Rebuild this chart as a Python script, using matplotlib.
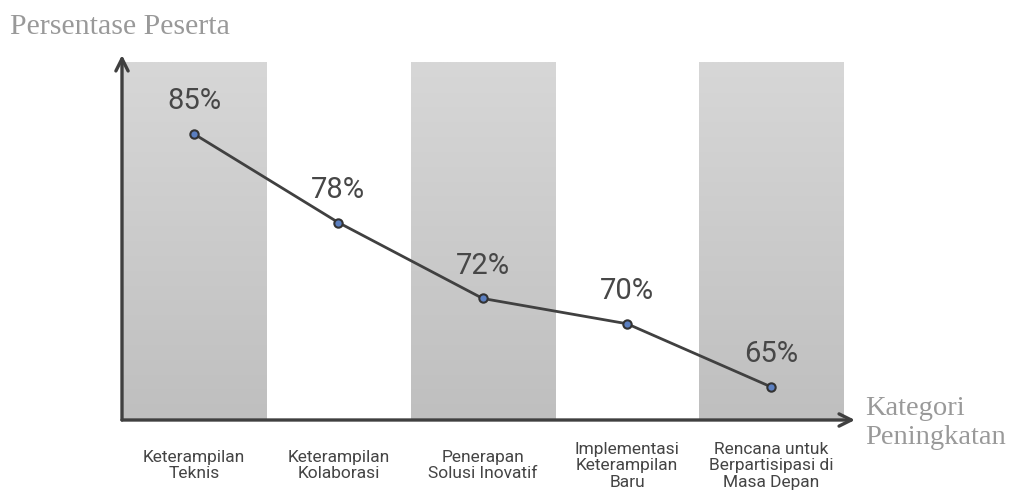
import matplotlib.pyplot as plt
import numpy as np

categories = [
    "Keterampilan\nTeknis",
    "Keterampilan\nKolaborasi",
    "Penerapan\nSolusi Inovatif",
    "Implementasi\nKeterampilan\nBaru",
    "Rencana untuk\nBerpartisipasi di\nMasa Depan",
]
values = [85, 78, 72, 70, 65]
value_labels = ["85%", "78%", "72%", "70%", "65%"]
shaded = [0, 2, 4]

y_title = "Persentase Peserta"
x_title = "Kategori\nPeningkatan"


def main():
    fig = plt.figure(figsize=(10.15, 4.97), dpi=100)
    ax = fig.add_axes([122 / 1015, 77 / 497, 733 / 1015, 365 / 497])

    ymin, ymax = 62.39, 91.25
    band_top = 90.69
    ax.set_xlim(-0.5, 4.58)
    ax.set_ylim(ymin, ymax)

    # gradient bands behind alternate categories
    grad = np.linspace(0, 1, 256).reshape(-1, 1)
    cmap = plt.matplotlib.colors.LinearSegmentedColormap.from_list(
        "g", ["#d7d7d7", "#bfbfbf"]
    )
    for i in shaded:
        ax.imshow(grad, extent=(i - 0.5, i + 0.5, ymin, band_top),
                  origin="upper", cmap=cmap, aspect="auto", zorder=0)

    x = np.arange(len(categories))
    ax.plot(
        x, values, color="#404040", lw=2, marker="o", markersize=6,
        markerfacecolor="#5b7fc0", markeredgecolor="#333333",
        markeredgewidth=1.5, zorder=3,
    )
    for xi, v, lab in zip(x, values, value_labels):
        ax.annotate(
            lab, xy=(xi, v), xytext=(0, 23.5), textcoords="offset points",
            ha="center", va="center", fontsize=21, family="Roboto",
            color="#474747",
        )

    for s in ax.spines.values():
        s.set_visible(False)
    ax.set_xticks([])
    ax.set_yticks([])

    # axis arrows
    arrow = dict(arrowstyle="->", lw=2.4, color="#404040", mutation_scale=22,
                 shrinkA=0, shrinkB=0)
    ax.annotate("", xy=(0, 1), xytext=(0, 0), xycoords="axes fraction",
                arrowprops=arrow, annotation_clip=False)
    ax.annotate("", xy=(1, 0), xytext=(0, 0), xycoords="axes fraction",
                arrowprops=arrow, annotation_clip=False)

    # category labels below
    for xi, c in zip(x, categories):
        ax.annotate(
            c, xy=(xi, 0), xycoords=("data", "axes fraction"),
            xytext=(0, -33), textcoords="offset points",
            ha="center", va="center", fontsize=12.5, family="Roboto",
            color="#444444", linespacing=1.1, annotation_clip=False,
        )

    fig.text(10 / 1015, 1 - 27 / 497, y_title, fontsize=21.5,
             family="Liberation Serif", color="#999999", ha="left", va="center")
    fig.text(865 / 1015, 1 - 423 / 497, x_title, fontsize=20.5,
             family="Liberation Serif", color="#999999", ha="left", va="center",
             linespacing=1.2)

    fig.savefig("out.png", dpi=100)


if __name__ == "__main__":
    main()
